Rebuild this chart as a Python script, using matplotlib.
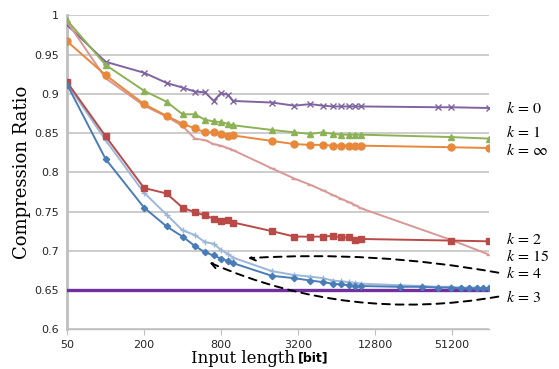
import matplotlib
matplotlib.use("Agg")
import matplotlib.pyplot as plt
import numpy as np

plt.rcParams['mathtext.fontset'] = 'stix'

# x positions (bits)
x_lo = [50, 100, 200, 300, 400, 500, 600, 700, 800, 900, 1000]
x_mid = [2000, 3000, 4000, 5000, 6000, 7000, 8000, 9000, 10000]
x_hi = [20000, 30000, 40000, 50000, 60000, 70000, 80000, 90000, 100000]

x_k0 = x_lo + x_mid + [40000, 50000, 100000]
y_k0 = [0.988, 0.941, 0.927, 0.914, 0.908, 0.903, 0.902, 0.891, 0.901, 0.899, 0.891,
        0.889, 0.885, 0.887, 0.885, 0.884, 0.884, 0.884, 0.884, 0.884,
        0.883, 0.883, 0.882]

x_k1 = x_lo + x_mid + [50000, 100000]
y_k1 = [0.994, 0.937, 0.904, 0.890, 0.874, 0.874, 0.867, 0.865, 0.864, 0.862, 0.860,
        0.854, 0.851, 0.849, 0.851, 0.849, 0.848, 0.848, 0.848, 0.848,
        0.845, 0.843]

x_kinf = x_lo + x_mid + [50000, 100000]
y_kinf = [0.967, 0.924, 0.887, 0.872, 0.862, 0.856, 0.851, 0.851, 0.849, 0.846, 0.847,
          0.840, 0.836, 0.835, 0.835, 0.834, 0.834, 0.834, 0.834, 0.834,
          0.832, 0.831]

x_k2 = x_lo + x_mid + [50000, 100000]
y_k2 = [0.915, 0.846, 0.780, 0.773, 0.755, 0.749, 0.745, 0.741, 0.738, 0.739, 0.736,
        0.725, 0.718, 0.718, 0.718, 0.719, 0.717, 0.717, 0.714, 0.715,
        0.713, 0.712]

x_k15 = x_lo + x_mid + [50000, 100000]
y_k15 = [0.992, 0.920, 0.885, 0.871, 0.859, 0.843, 0.841, 0.836, 0.834, 0.831, 0.828,
         0.805, 0.792, 0.784, 0.777, 0.771, 0.766, 0.762, 0.758, 0.754,
         0.714, 0.695]

x_k4 = x_lo + x_mid + x_hi
y_k4 = [0.913, 0.841, 0.774, 0.746, 0.726, 0.720, 0.711, 0.709, 0.701, 0.696, 0.691,
        0.674, 0.669, 0.667, 0.665, 0.662, 0.661, 0.660, 0.659, 0.658,
        0.656, 0.655, 0.654, 0.654, 0.653, 0.653, 0.653, 0.652, 0.652]

x_k3 = x_lo + x_mid + x_hi
y_k3 = [0.912, 0.817, 0.755, 0.731, 0.718, 0.706, 0.698, 0.694, 0.690, 0.687, 0.684,
        0.668, 0.665, 0.662, 0.660, 0.658, 0.657, 0.656, 0.655, 0.655,
        0.654, 0.654, 0.653, 0.653, 0.652, 0.652, 0.652, 0.652, 0.652]

bound = 0.65

xticks = [50, 200, 800, 3200, 12800, 51200]
yticks = [0.6, 0.65, 0.7, 0.75, 0.8, 0.85, 0.9, 0.95, 1.0]
ytick_labels = ["0.6", "0.65", "0.7", "0.75", "0.8", "0.85", "0.9", "0.95", "1"]

fig = plt.figure(figsize=(5.59, 3.69), dpi=100)
ax = fig.add_axes([0.12, 0.108, 0.755, 0.85])

ax.axhline(bound, color="#7030A0", lw=2.4, zorder=3)
ax.plot(x_k0, y_k0, color="#8064A2", lw=1.4, marker="x", ms=4.5, mew=1.0, zorder=4)
ax.plot(x_k15, y_k15, color="#D99795", lw=1.4, marker="_", ms=4, zorder=4)
ax.plot(x_k1, y_k1, color="#8DB255", lw=1.4, marker="^", ms=5, zorder=5)
ax.plot(x_kinf, y_kinf, color="#E8883A", lw=1.4, marker="o", ms=5, zorder=5)
ax.plot(x_k2, y_k2, color="#B94A48", lw=1.4, marker="s", ms=5, zorder=5)
ax.plot(x_k4, y_k4, color="#9BB7DA", lw=1.4, marker="+", ms=4, mew=1.0, zorder=4)
ax.plot(x_k3, y_k3, color="#4A7DB8", lw=1.4, marker="D", ms=3.2, zorder=5)

ax.set_xscale("log", base=2)
ax.set_xlim(50, 100000)
ax.set_ylim(0.6, 1.0)
ax.set_xticks(xticks)
ax.set_xticklabels([str(t) for t in xticks])
ax.xaxis.set_minor_locator(matplotlib.ticker.NullLocator())
ax.set_yticks(yticks)
ax.set_yticklabels(ytick_labels)
ax.tick_params(axis="x", length=4, color="#BFBFBF", labelsize=8, labelcolor="#262626", pad=4)
ax.tick_params(axis="y", length=0, labelsize=8, labelcolor="#262626", pad=6)

ax.grid(axis="y", color="#BFBFBF", lw=1.1)
ax.set_axisbelow(True)
for s in ["top", "right"]:
    ax.spines[s].set_visible(False)
ax.spines["left"].set_color("#BFBFBF")
ax.spines["left"].set_linewidth(2)
ax.spines["bottom"].set_color("#BFBFBF")
ax.spines["bottom"].set_linewidth(1)

ax.set_ylabel("Compression Ratio", family="DejaVu Serif", fontsize=13, labelpad=2)
fig.text(0.527, 0.006, "Input length", family="DejaVu Serif", fontsize=12, ha="right", va="bottom")
fig.text(0.533, 0.012, "[bit]", family="DejaVu Sans", fontsize=9, fontweight="bold", ha="left", va="bottom")

# right side labels
labels = [("$k\\,=\\,0$", 0.882), ("$k\\,=\\,1$", 0.851), ("$k\\,=\\,\\infty$", 0.828),
          ("$k\\,=\\,2$", 0.7155), ("$k\\,=\\,15$", 0.6935), ("$k\\,=\\,4$", 0.671),
          ("$k\\,=\\,3$", 0.641)]
for txt, yv in labels:
    ax.annotate(txt, xy=(1.0, yv), xycoords=("axes fraction", "data"),
                xytext=(12, 0), textcoords="offset points", fontsize=11.5,
                va="center", ha="left", annotation_clip=False)

# dashed arrows
ax.annotate("", xy=(1300, 0.6905), xytext=(118000, 0.672),
            arrowprops=dict(arrowstyle="->", linestyle=(0, (4, 3)), color="black", lw=1.4,
                            connectionstyle="arc3,rad=0.06", shrinkA=0, shrinkB=0),
            annotation_clip=False)
ax.annotate("", xy=(650, 0.685), xytext=(118000, 0.6415),
            arrowprops=dict(arrowstyle="->", linestyle=(0, (4, 3)), color="black", lw=1.4,
                            connectionstyle="arc3,rad=-0.15", shrinkA=0, shrinkB=0),
            annotation_clip=False)

fig.savefig("out.png", dpi=100)
